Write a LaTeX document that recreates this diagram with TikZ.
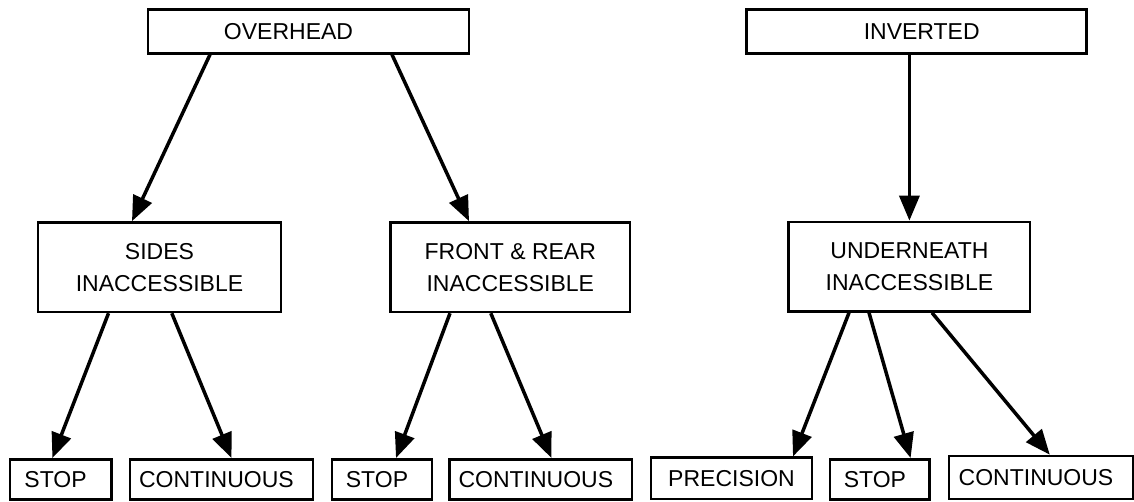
\documentclass[tikz,border=0pt]{standalone}
\usepackage{fontspec}
\setmainfont{Liberation Sans}
\usetikzlibrary{arrows.meta}
\begin{document}
\begin{tikzpicture}[x=1pt,y=-1pt,
  box/.style={draw, line width=2.6pt, inner sep=0pt, align=center,
    font=\fontsize{23}{32}\selectfont},
  topbox/.style={box, minimum height=44pt},
  midbox/.style={box, minimum height=89.5pt},
  leafbox/.style={box, minimum height=40pt, execute at end node=\kern10pt},
  arr/.style={line width=3.5pt, -{Triangle[length=25pt,width=20pt]}}]
\useasboundingbox (0,0) rectangle (1134,502);

% first level
\node[topbox, minimum width=321pt, execute at end node=\kern40pt] (overhead) at (308.5,31.3) {OVERHEAD};
\node[topbox, minimum width=340pt, execute at begin node=\kern10pt] (inverted) at (916.7,31.3) {INVERTED};

% second level
\node[midbox, minimum width=243pt]   (sides) at (159.5,267.2) {SIDES\\INACCESSIBLE};
\node[midbox, minimum width=239.4pt] (front) at (510.3,267.2) {FRONT \& REAR\\INACCESSIBLE};
\node[midbox, minimum width=241.3pt] (under) at (909.4,266.7) {UNDERNEATH\\INACCESSIBLE};

% leaves
\node[leafbox, minimum width=101.6pt] (stopa) at (60.6,479.3)  {STOP};
\node[leafbox, minimum width=182.8pt] (conta) at (221.4,479.3) {CONTINUOUS};
\node[leafbox, minimum width=100pt]   (stopb) at (382,479.3)   {STOP};
\node[leafbox, minimum width=182.5pt] (contb) at (540.8,479.3) {CONTINUOUS};
\node[box, minimum width=161pt, minimum height=41.3pt] (prec) at (731.5,478.4) {PRECISION};
\node[leafbox, minimum width=99.7pt]  (stopc) at (879.9,479.3) {STOP};
\node[leafbox, minimum width=184pt, minimum height=43pt] (contc) at (1041,477.5) {CONTINUOUS};

% connectors
\draw[arr] ([xshift=-98.5pt]overhead.south) -- ([xshift=-27.5pt]sides.north);
\draw[arr] ([xshift=83.5pt]overhead.south)  -- ([xshift=-41.3pt]front.north);
\draw[arr] (inverted.south -| under.north)  -- (under.north);

\draw[arr] ([xshift=-51pt]sides.south)   -- ([xshift=-8.2pt]stopa.north);
\draw[arr] ([xshift=12.3pt]sides.south)  -- ([xshift=10.1pt]conta.north);
\draw[arr] ([xshift=-60.3pt]front.south) -- ([xshift=14pt]stopb.north);
\draw[arr] ([xshift=-19.5pt]front.south) -- ([xshift=10.7pt]contb.north);

\draw[arr] ([xshift=-60.4pt]under.south) -- ([xshift=61.5pt]prec.north);
\draw[arr] ([xshift=-40.4pt]under.south) -- ([xshift=30.7pt]stopc.north);
\draw[arr] ([xshift=22.6pt]under.south)  -- ([xshift=8.8pt]contc.north);
\end{tikzpicture}
\end{document}
